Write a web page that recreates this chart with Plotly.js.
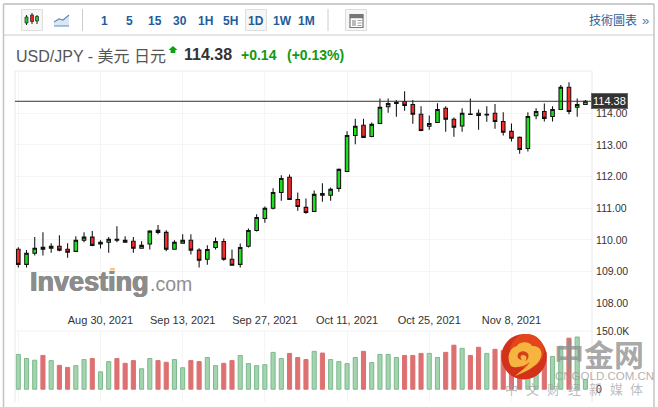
<!DOCTYPE html>
<html><head><meta charset="utf-8">
<script src="https://cdn.plot.ly/plotly-3.0.1.min.js"></script>
<style>html,body{margin:0;padding:0;background:#fff}#c{width:658px;height:407px}</style>
</head><body><div id="c"></div>
<script>
const dates = ["2021-08-16","2021-08-17","2021-08-18","2021-08-19","2021-08-20","2021-08-23","2021-08-24","2021-08-25","2021-08-26","2021-08-27",
"2021-08-30","2021-08-31","2021-09-01","2021-09-02","2021-09-03","2021-09-06","2021-09-07","2021-09-08","2021-09-09","2021-09-10",
"2021-09-13","2021-09-14","2021-09-15","2021-09-16","2021-09-17","2021-09-20","2021-09-21","2021-09-22","2021-09-23","2021-09-24",
"2021-09-27","2021-09-28","2021-09-29","2021-09-30","2021-10-01","2021-10-04","2021-10-05","2021-10-06","2021-10-07","2021-10-08",
"2021-10-11","2021-10-12","2021-10-13","2021-10-14","2021-10-15","2021-10-18","2021-10-19","2021-10-20","2021-10-21","2021-10-22",
"2021-10-25","2021-10-26","2021-10-27","2021-10-28","2021-10-29","2021-11-01","2021-11-02","2021-11-03","2021-11-04","2021-11-05",
"2021-11-08","2021-11-09","2021-11-10","2021-11-11","2021-11-12","2021-11-15","2021-11-16","2021-11-17","2021-11-18","2021-11-19"];
const opens = [109.71,109.23,109.58,109.77,109.74,109.80,109.71,109.64,109.99,110.09,
109.87,109.93,110.02,109.99,109.96,109.74,109.87,110.31,110.24,109.71,
109.90,109.99,109.68,109.39,109.76,109.95,109.39,109.23,109.80,110.30,
110.68,111.00,111.50,111.98,111.28,111.03,110.90,111.47,111.41,111.63,
112.16,113.30,113.62,113.27,113.68,114.21,114.31,114.37,114.28,113.97,
113.59,113.71,114.16,113.81,113.60,113.98,114.00,113.95,114.00,113.74,
113.43,113.24,112.89,113.92,114.06,113.90,114.12,114.82,114.19,114.28];
const highs = [109.77,109.68,110.09,110.24,109.90,110.15,109.90,110.12,110.24,110.28,
109.99,110.09,110.43,110.12,110.09,109.96,110.31,110.47,110.31,109.99,
110.18,110.18,109.74,109.83,110.08,110.05,109.70,109.89,110.36,110.81,
111.06,111.63,112.04,112.07,111.50,111.31,111.56,111.79,111.66,112.26,
113.43,113.83,113.83,113.71,114.47,114.47,114.42,114.70,114.42,114.22,
113.93,114.32,114.22,113.87,114.16,114.47,114.12,114.22,114.29,114.03,
113.68,113.27,114.03,114.16,114.31,114.22,114.89,114.98,114.47,114.42];
const lows = [109.13,109.13,109.51,109.51,109.60,109.64,109.44,109.63,109.93,109.80,
109.73,109.60,109.93,109.92,109.60,109.73,109.70,110.18,109.64,109.69,
109.89,109.54,109.13,109.22,109.70,109.34,109.20,109.13,109.76,110.27,
110.54,110.96,111.24,111.28,110.92,110.83,110.90,111.21,111.24,111.52,
112.16,113.02,113.24,113.24,113.66,114.02,113.89,114.08,113.67,113.43,
113.48,113.70,113.42,113.26,113.42,113.96,113.48,113.73,113.51,113.30,
113.11,112.72,112.79,113.81,113.74,113.74,114.12,113.97,113.89,114.26];
const closes = [109.23,109.58,109.74,109.71,109.80,109.68,109.61,109.99,110.09,109.83,
109.93,110.02,109.99,109.93,109.74,109.83,110.28,110.24,109.71,109.93,
109.99,109.68,109.36,109.70,109.95,109.39,109.20,109.76,110.30,110.71,
111.00,111.50,111.94,111.28,111.06,110.87,111.44,111.41,111.60,112.23,
113.30,113.59,113.24,113.65,114.19,114.31,114.34,114.25,113.97,113.46,
113.68,114.12,113.81,113.56,114.00,113.96,113.93,113.97,113.74,113.40,
113.21,112.86,113.90,114.06,113.84,114.12,114.82,114.06,114.28,114.38];
const volumes = [90,79.4,75,87.3,74,61.7,56.4,60.9,76.7,79.4,
45,71.4,79.4,67,74,52.9,79.4,74,69.7,76.7,
55.6,74,71.4,82,60.9,67,74,87.3,66.2,60.9,
63.5,95.3,79.4,92.6,82,76.7,97.9,93.5,76.7,71.4,
66.2,82,97.9,68.8,90,90,82,87.3,87.3,92.6,
92.6,82,95.3,113.8,105.8,87.3,108.5,92.6,103.2,100,
115,95,55,70,95.3,84.7,111,132,135,24.7];
const volumeUp = [1,1,1,0,1,0,0,1,1,0,1,1,0,0,0,1,1,0,0,1,1,0,0,1,1,0,0,1,1,1,
1,1,1,0,0,0,1,0,1,1,1,1,0,1,1,1,1,0,0,0,1,1,0,0,1,0,0,1,0,0,0,0,1,1,0,1,1,0,1,1];
const tickDates = ["2021-08-16","2021-08-30","2021-09-13","2021-09-27","2021-10-11","2021-10-25","2021-11-08"];
const tickLabels = ["","Aug 30, 2021","Sep 13, 2021","Sep 27, 2021","Oct 11, 2021","Oct 25, 2021","Nov 8, 2021"];
const priceTicks = [108,109,110,111,112,113,114];
const priceLabels = ["108.00","109.00","110.00","111.00","112.00","113.00","114.00"];
const volumeTicks = [0,150];
const volumeLabels = ["0","150.0K"];
const lastPrice = 114.38;
const intervals = ["1","5","15","30","1H","5H","1D","1W","1M"];

const L=15,R=592,T=71,B=402;
const px=x=>(x-L)/(R-L), py=y=>(B-y)/(B-T);
const SANS='"Liberation Sans",Arial,"Noto Sans CJK TC",sans-serif';
function txt(text,x,y,size,color,o){return Object.assign({text,x:px(x-1.5),y:py(y),xref:'paper',yref:'paper',xanchor:'left',yanchor:'middle',showarrow:false,
  font:{family:SANS,size,color}},o||{});}
function rect(x0,y0,x1,y1,fill,line,lw){return {type:'rect',xref:'paper',yref:'paper',x0:px(x0),x1:px(x1),y0:py(y0),y1:py(y1),fillcolor:fill||'rgba(0,0,0,0)',line:{color:line||'rgba(0,0,0,0)',width:lw===undefined?1:lw}};}
function seg(x0,y0,x1,y1,color,w){return {type:'line',xref:'paper',yref:'paper',x0:px(x0),x1:px(x1),y0:py(y0),y1:py(y1),line:{color,width:w||1}};}
function poly(pts,fill,line,lw,close){const d=pts.map((p,i)=>(i?'L':'M')+px(p[0]).toFixed(5)+','+py(p[1]).toFixed(5)).join(' ')+(close===false?'':' Z');
  return {type:'path',xref:'paper',yref:'paper',path:d,fillcolor:fill||'rgba(0,0,0,0)',line:{color:line||'rgba(0,0,0,0)',width:lw||0}};}
function curve(d,fill){const s=d.replace(/(-?[\d.]+),(-?[\d.]+)/g,(m,a,b)=>px(+a).toFixed(5)+','+py(+b).toFixed(5));
  return {type:'path',xref:'paper',yref:'paper',path:s,fillcolor:fill,line:{width:0,color:'rgba(0,0,0,0)'}};}
function circ(cx,cy,r,fill){return {type:'circle',xref:'paper',yref:'paper',x0:px(cx-r),x1:px(cx+r),y0:py(cy+r),y1:py(cy-r),fillcolor:fill,line:{width:0,color:'rgba(0,0,0,0)'}};}

const shapes=[
  seg(15,71,15,402,'#e8e8f0',1), seg(15,71,592,71,'#ececec',1), seg(592,71,592,402,'#e8e8e8',1),
  seg(15,331,592,331,'#f2f2f2',1),
  seg(3.5,4,654,4,'#bbbbbb',1.5), seg(3.5,4,3.5,407,'#c4c4c4',1.5), seg(654,4,654,407,'#c4c4c4',1.5), seg(3.5,35,654,35,'#cccccc',1),
  seg(82.5,9,82.5,31,'#cccccc',1), seg(328,9,328,31,'#cccccc',1),
  rect(21.5,9.5,42.5,30.5,'#f6f6f6','#dddddd',1), rect(245.5,9.5,266.5,30.5,'#f6f6f6','#dddddd',1), rect(345.5,9.5,366.5,30.5,'#f6f6f6','#dddddd',1),
  seg(26.5,15,26.5,25,'#222',1), rect(25,17,28,23,'#22cc22','#222',0.7),
  seg(32,13,32,24,'#222',1), rect(30.5,15,33.5,21.5,'#ee2222','#222',0.7),
  seg(37,15,37,24,'#222',1), rect(35.5,16.5,38.5,21,'#22cc22','#222',0.7),
  poly([[54,22],[59,19],[63,20],[69,15],[69,26],[54,26]],'#dbe6f2'),
  poly([[54,22],[59,19],[63,20],[69,15]],null,'#5b8fc4',1.2,false), seg(54,26,69,26,'#5b8fc4',1),
  rect(350,14.5,363,27.5,'#ffffff','#777777',1.2), rect(350,14.5,363,18,'#777777','#777777',0.5),
  rect(352,20,356,26,'#bbbbbb','#bbbbbb',0), seg(357.5,20.5,361.5,20.5,'#999',1), seg(357.5,23,361.5,23,'#999',1), seg(357.5,25.5,361.5,25.5,'#999',1),
  poly([[168.5,50],[173,46],[177.5,50],[175.4,50],[175.4,53],[170.6,53],[170.6,50]],'#11a011'),
  {type:'line',xref:'paper',yref:'y',x0:0,x1:1,y0:lastPrice,y1:lastPrice,line:{color:'#333333',width:1}},
  rect(110,268,115,270,'#f7c97e',null,0), rect(110,270.5,115,272.5,'#f7d49a',null,0),
  circ(524,356.7,22.7,'#d2321a'), circ(527,351,17,'#e2461a'),
  curve('M511,366 C506,358 509,348 517,346 C519,341 530,341 532,346 C539,345 543,351 541,357 C539,364 531,370 515,376 C522,370 527,367 530,362 C525,366 516,369 511,366 Z','#f6b540'),
  curve('M518,358 C516,353 522,350 526,352 C530,354 529,360 525,361 C528,358 526,355 523,355 C520,355 520,358 522,360 C520,360 519,359 518,358 Z','#d2421a')
];

const wmShadow='0.6px 0 0 #8c8c8c, -0.6px 0 0 #8c8c8c, 0 0.4px 0 #8c8c8c';
const cnShadow='0.5px 0 0 rgba(150,150,150,0.6)';
const annotations=[
  txt('USD/JPY - 美元 日元',15,56,16,'#555555'),
  txt('<b>114.38</b>',183,54.5,16,'#333333'),
  txt('<b>+0.14</b>',240,55,14,'#109a10'),
  txt('<b>(+0.13%)</b>',286,55,14,'#109a10'),
  txt('技術圖表',588,20.5,12,'#1f5c99'),
  txt('»',641,20,13,'#4a7db0'),
  txt('<b>Investing</b>',29,281.5,27,'#8c8c8c',{font:{family:SANS,size:27,color:'#8c8c8c',shadow:wmShadow}}),
  txt('.com',149,284,19.5,'#8f8f8f'),
  txt('<b>中金网</b>',553,353,30,'#999',{font:{family:'"Noto Sans CJK SC",sans-serif',size:30,color:'rgba(145,145,145,0.8)'}}),
  txt('CNGOLD.COM.CN',554,375.5,11.5,'rgba(150,150,150,0.75)'),
  {text:'114.38',x:1,y:lastPrice,xref:'paper',yref:'y',xanchor:'left',yanchor:'middle',xshift:-1,showarrow:false,bgcolor:'#333333',bordercolor:'#666666',borderwidth:1,borderpad:1,
   font:{family:SANS,size:11,color:'#ffffff'}}
];
intervals.forEach((t,i)=>{annotations.push(txt(t,0,20.5,12,'#1f5c99',{x:px([104,129,155,180,205,230,256,282,307][i]),xanchor:'center',text:'<b>'+t+'</b>'}));});
['中','文','财','经','新','媒','体'].forEach((c,i)=>{annotations.push(txt(c,0,388,13,'#aaa',{x:px(512+i*20.8),xanchor:'center',font:{family:'"Noto Sans CJK SC",sans-serif',size:13,color:'rgba(160,160,160,0.7)'}}));});

const candle={type:'candlestick',x:dates,open:opens,high:highs,low:lows,close:closes,xaxis:'x',yaxis:'y',
  increasing:{line:{color:'#111111',width:1.05},fillcolor:'#1fe01f'},
  decreasing:{line:{color:'#111111',width:1.05},fillcolor:'#fb2a2a'},
  whiskerwidth:0,hoverinfo:'skip',showlegend:false};
const vols={type:'bar',x:dates,y:volumes,xaxis:'x2',yaxis:'y2',width:0.5,
  marker:{color:volumeUp.map(u=>u?'#a3d4ad':'#dd7070'),line:{color:volumeUp.map(u=>u?'#7db98e':'#dd7070'),width:1}},
  hoverinfo:'skip',showlegend:false};
const xr=[-0.40,69.80];
const layout={
  width:658,height:407,margin:{l:L,r:658-R,t:T,b:407-B,pad:0},paper_bgcolor:'#ffffff',plot_bgcolor:'#ffffff',
  showlegend:false,boxgap:0.38,dragmode:false,
  xaxis:{type:'category',categoryorder:'array',categoryarray:dates,range:xr,anchor:'y',tickmode:'array',tickvals:tickDates,ticktext:tickLabels,
    showgrid:true,gridcolor:'#f5f5f5',gridwidth:1,zeroline:false,showline:false,ticks:'outside',ticklen:6,tickcolor:'rgba(0,0,0,0)',
    tickangle:0,tickfont:{family:SANS,size:11,color:'#333333'},rangeslider:{visible:false},fixedrange:true},
  xaxis2:{type:'category',categoryorder:'array',categoryarray:dates,range:xr,anchor:'y2',tickmode:'array',tickvals:tickDates,ticktext:tickDates.map(()=>''),
    showgrid:true,gridcolor:'#f5f5f5',zeroline:false,showline:false,ticks:'',rangeslider:{visible:false},fixedrange:true},
  yaxis:{domain:[(B-303.3)/(B-T),1],range:[108,115.336],side:'right',anchor:'x',tickmode:'array',tickvals:priceTicks,ticktext:priceLabels,
    showgrid:true,gridcolor:'#f5f5f5',zeroline:false,showline:false,ticks:'outside',ticklen:1,tickcolor:'rgba(0,0,0,0)',
    tickfont:{family:SANS,size:10.5,color:'#333333'},fixedrange:true},
  yaxis2:{domain:[0,(B-331)/(B-T)],range:[-33,150.5],side:'right',anchor:'x2',tickmode:'array',tickvals:volumeTicks,ticktext:volumeLabels,
    showgrid:false,zeroline:false,showline:false,ticks:'outside',ticklen:1,tickcolor:'rgba(0,0,0,0)',
    tickfont:{family:SANS,size:10.5,color:'#333333'},fixedrange:true},
  shapes,annotations
};
Plotly.newPlot('c',[candle,vols],layout,{displayModeBar:false,staticPlot:true});
</script></body></html>
